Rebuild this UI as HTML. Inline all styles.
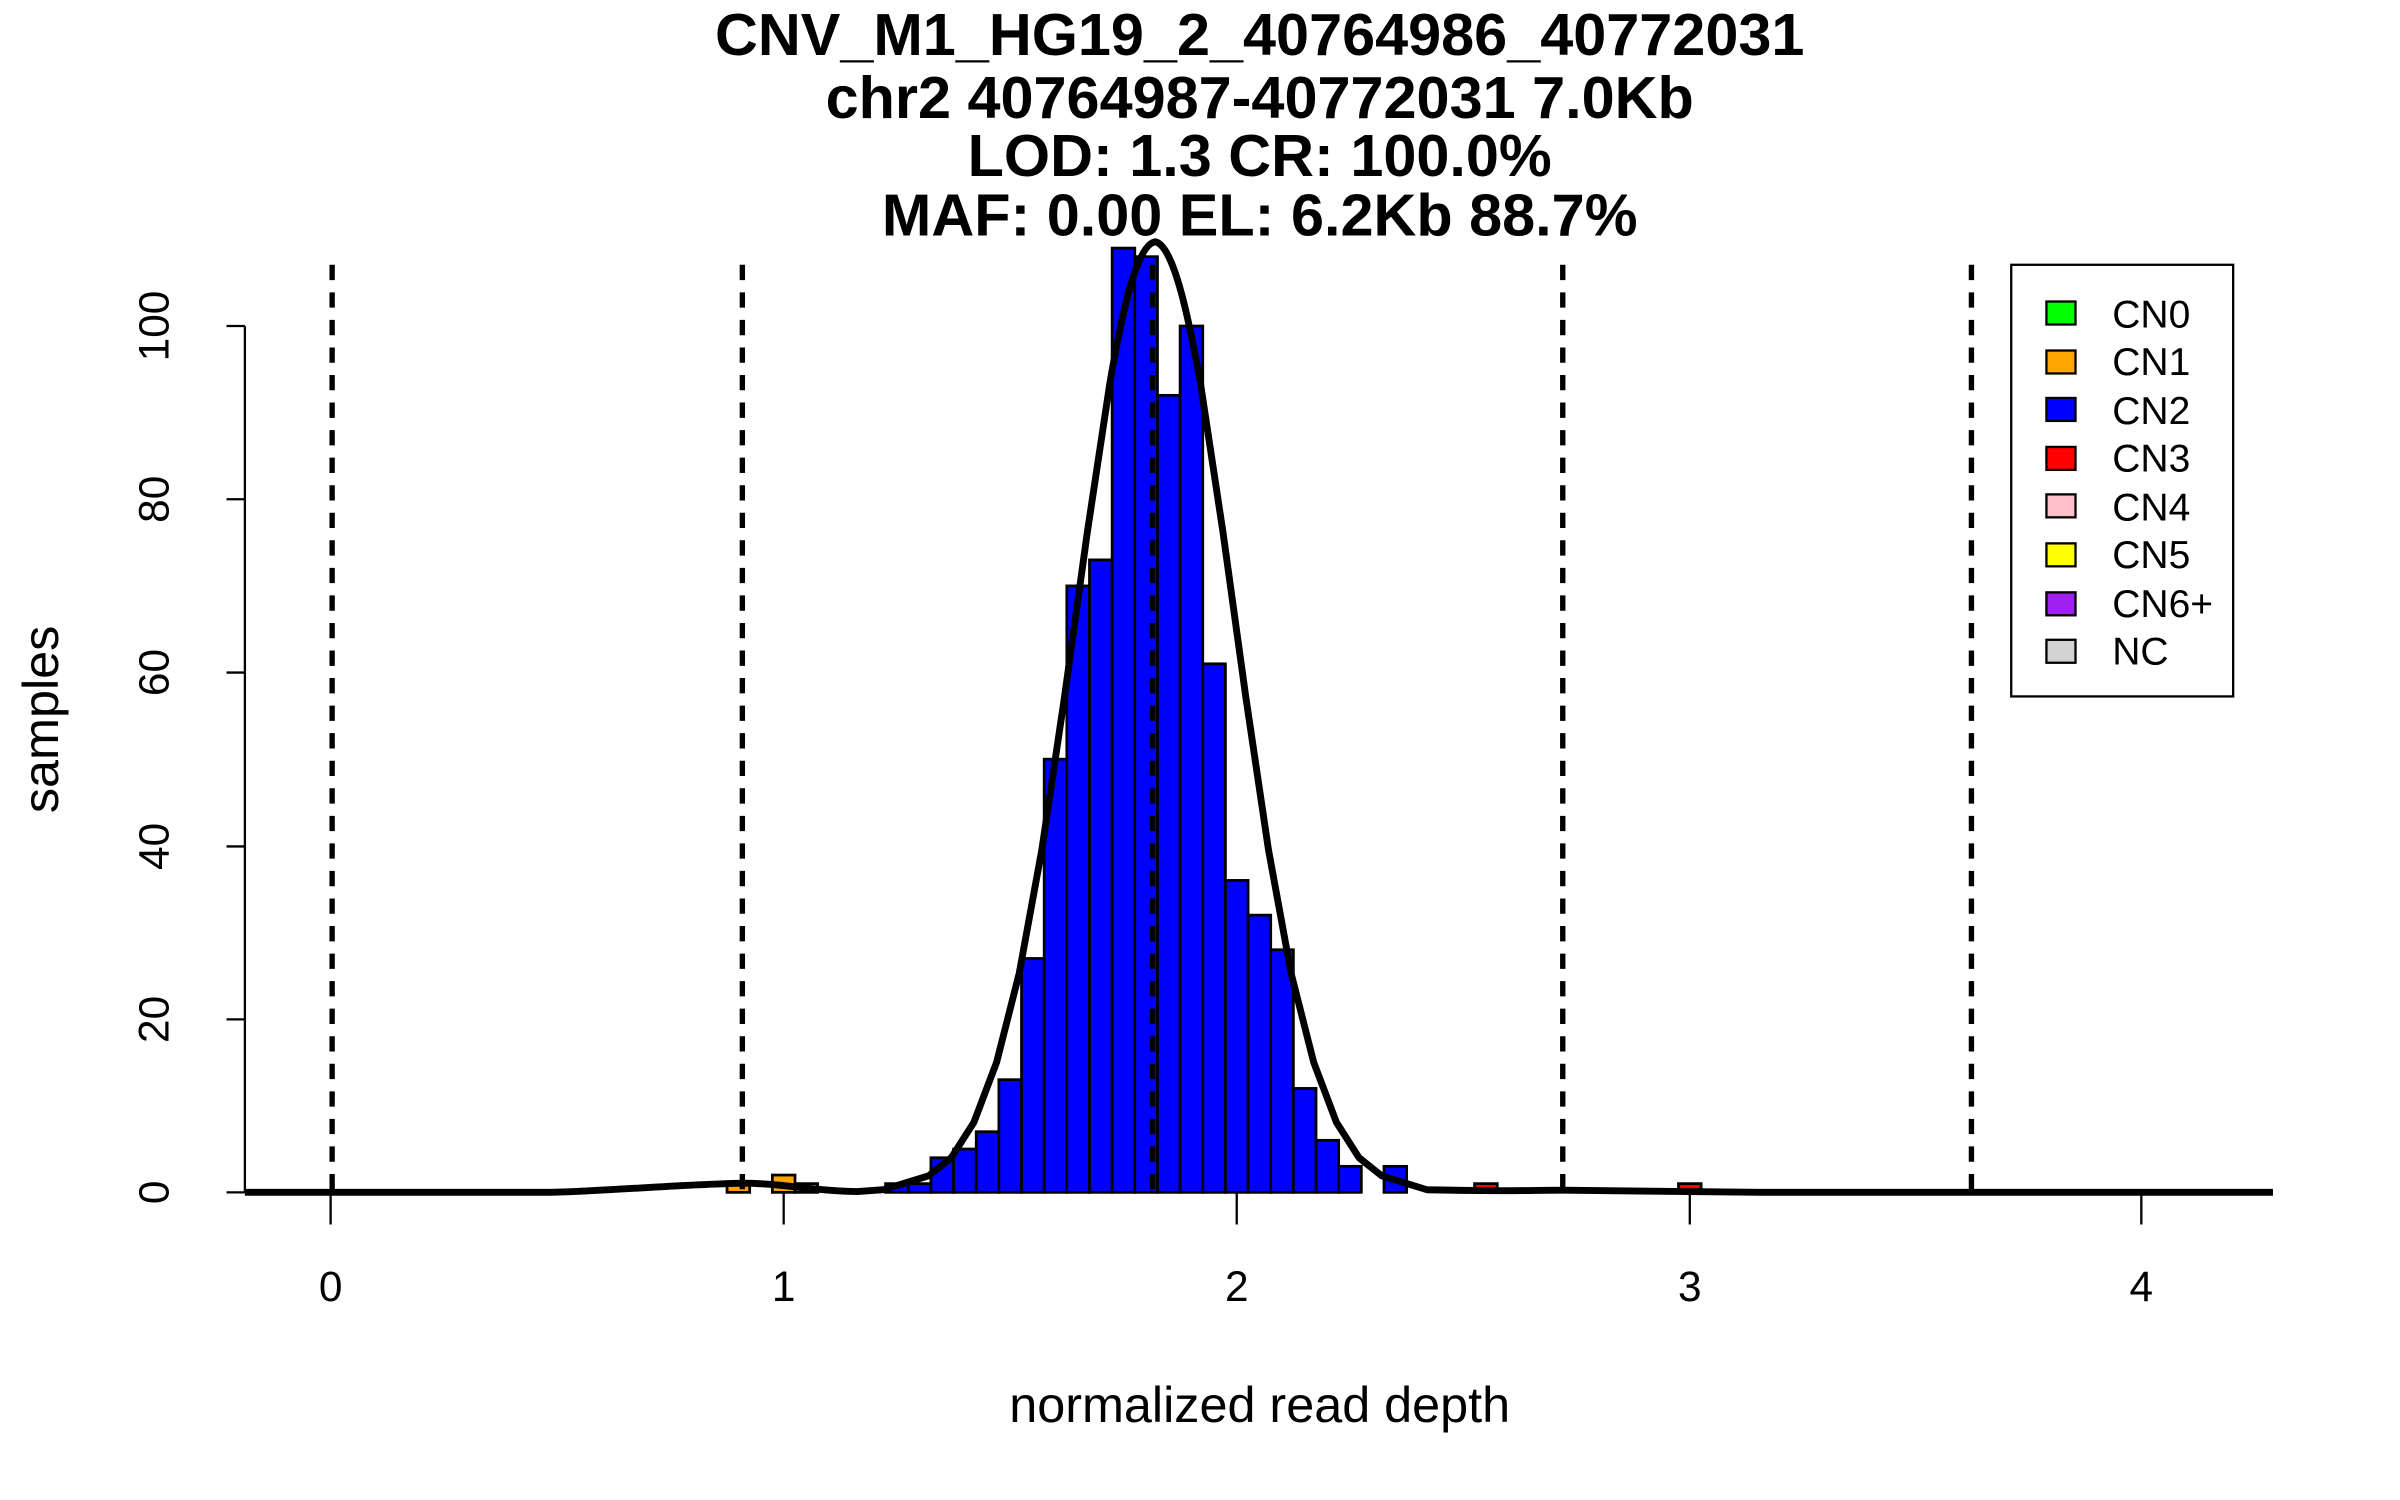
<!DOCTYPE html>
<html><head><meta charset="utf-8"><style>
html,body{margin:0;padding:0;background:#fff;}
svg{display:block;font-family:"Liberation Sans",Arial,sans-serif;}
</style></head><body>
<svg width="2400" height="1500" viewBox="0 0 1568 980" xmlns="http://www.w3.org/2000/svg">
<rect width="1568" height="980" fill="#fff"/>
<g font-weight="bold" font-size="38.8" text-anchor="middle" fill="#000">
<text x="823" y="36">CNV_M1_HG19_2_40764986_40772031</text>
<text x="823" y="77">chr2 40764987-40772031 7.0Kb</text>
<text x="823" y="115">LOD: 1.3 CR: 100.0%</text>
<text x="823" y="154">MAF: 0.00 EL: 6.2Kb 88.7%</text>
</g>
<g stroke="#000" stroke-width="1.8">
<g fill="#0000ff">
<rect x="578.6" y="773.3" width="14.8" height="5.7"/>
<rect x="593.4" y="773.3" width="14.8" height="5.7"/>
<rect x="608.2" y="756.4" width="14.8" height="22.6"/>
<rect x="623" y="750.7" width="14.8" height="28.3"/>
<rect x="637.8" y="739.4" width="14.8" height="39.6"/>
<rect x="652.6" y="705.4" width="14.8" height="73.6"/>
<rect x="667.4" y="626.2" width="14.8" height="152.8"/>
<rect x="682.2" y="496" width="14.8" height="283"/>
<rect x="697" y="382.8" width="14.8" height="396.2"/>
<rect x="711.8" y="365.8" width="14.8" height="413.2"/>
<rect x="726.6" y="162.1" width="14.8" height="616.9"/>
<rect x="741.4" y="167.7" width="14.8" height="611.3"/>
<rect x="756.2" y="258.3" width="14.8" height="520.7"/>
<rect x="771" y="213" width="14.8" height="566"/>
<rect x="785.8" y="433.7" width="14.8" height="345.3"/>
<rect x="800.6" y="575.2" width="14.8" height="203.8"/>
<rect x="815.4" y="597.9" width="14.8" height="181.1"/>
<rect x="830.2" y="620.5" width="14.8" height="158.5"/>
<rect x="845" y="711.1" width="14.8" height="67.9"/>
<rect x="859.8" y="745" width="14.8" height="34"/>
<rect x="874.6" y="762" width="14.8" height="17"/>
<rect x="904.2" y="762" width="14.8" height="17"/>
</g>
<g fill="#ffa500">
<rect x="475" y="773.3" width="14.8" height="5.7"/>
<rect x="504.6" y="767.7" width="14.8" height="11.3"/>
<rect x="519.4" y="773.3" width="14.8" height="5.7"/>
</g>
<g fill="#ff0000">
<rect x="963.4" y="773.3" width="14.8" height="5.7"/>
<rect x="1096.6" y="773.3" width="14.8" height="5.7"/>
</g>
</g>
<g stroke="#000" stroke-width="3.5" stroke-dasharray="10,8">
<line x1="217" y1="173" x2="217" y2="779"/>
<line x1="485" y1="173" x2="485" y2="779"/>
<line x1="753" y1="173" x2="753" y2="779"/>
<line x1="1021" y1="173" x2="1021" y2="779"/>
<line x1="1288" y1="173" x2="1288" y2="779"/>
</g>
<path fill="none" stroke="#000" stroke-width="4.5" stroke-linejoin="round" d="M160,779 L360,779 C400,778 440,774 485,773 C510,773 530,778 560,778.5 L577.1,777.3 L606.7,768.2 L621.5,756.4 L636.3,733.2 L651.1,694.1 L665.9,635.8 L680.7,554.9 L695.5,455.2 L710.3,348.3 L725.1,250.4 C732,210 742,160 754.7,158 C767,160 777,210 784.3,250.4 L799.1,348.3 L813.9,455.2 L828.7,554.9 L843.5,635.8 L858.3,694.1 L873.1,733.2 L887.9,756.4 L902.7,768.2 L932.3,777.3 C980,778.5 1000,777.6 1021,777.6 C1060,778 1100,778.6 1150,779 L1485,779"/>
<g stroke="#000" stroke-width="1.5" fill="none">
<line x1="160" y1="779" x2="160" y2="213"/>
<line x1="148" y1="779" x2="160" y2="779"/>
<line x1="148" y1="666" x2="160" y2="666"/>
<line x1="148" y1="553" x2="160" y2="553"/>
<line x1="148" y1="439.4" x2="160" y2="439.4"/>
<line x1="148" y1="326.2" x2="160" y2="326.2"/>
<line x1="148" y1="213" x2="160" y2="213"/>
<line x1="216" y1="779" x2="216" y2="800"/>
<line x1="512" y1="779" x2="512" y2="800"/>
<line x1="808" y1="779" x2="808" y2="800"/>
<line x1="1104" y1="779" x2="1104" y2="800"/>
<line x1="1399" y1="779" x2="1399" y2="800"/>
</g>
<g font-size="27.7" fill="#000" text-anchor="middle">
<text x="216" y="850">0</text>
<text x="512" y="850">1</text>
<text x="808" y="850">2</text>
<text x="1104" y="850">3</text>
<text x="1399" y="850">4</text>
<text transform="translate(110,779) rotate(-90)">0</text>
<text transform="translate(110,666) rotate(-90)">20</text>
<text transform="translate(110,553) rotate(-90)">40</text>
<text transform="translate(110,439.4) rotate(-90)">60</text>
<text transform="translate(110,326.2) rotate(-90)">80</text>
<text transform="translate(110,213) rotate(-90)">100</text>
<text x="823" y="929" font-size="32.9">normalized read depth</text>
<text transform="translate(38,470) rotate(-90)" font-size="32.9">samples</text>
</g>
<rect x="1314" y="173" width="145" height="282" fill="#fff" stroke="#000" stroke-width="1.5"/>
<g stroke="#000" stroke-width="1.5">
<rect x="1337" y="197" width="19" height="15" fill="#00ff00"/>
<rect x="1337" y="229" width="19" height="15" fill="#ffa500"/>
<rect x="1337" y="260" width="19" height="15" fill="#0000ff"/>
<rect x="1337" y="292" width="19" height="15" fill="#ff0000"/>
<rect x="1337" y="323" width="19" height="15" fill="#ffc0cb"/>
<rect x="1337" y="355" width="19" height="15" fill="#ffff00"/>
<rect x="1337" y="387" width="19" height="15" fill="#a020f0"/>
<rect x="1337" y="418" width="19" height="15" fill="#d3d3d3"/>
</g>
<g font-size="25.5" fill="#000">
<text x="1380" y="214">CN0</text>
<text x="1380" y="245">CN1</text>
<text x="1380" y="277">CN2</text>
<text x="1380" y="308">CN3</text>
<text x="1380" y="340">CN4</text>
<text x="1380" y="371">CN5</text>
<text x="1380" y="403">CN6+</text>
<text x="1380" y="434">NC</text>
</g>
</svg>
</body></html>
